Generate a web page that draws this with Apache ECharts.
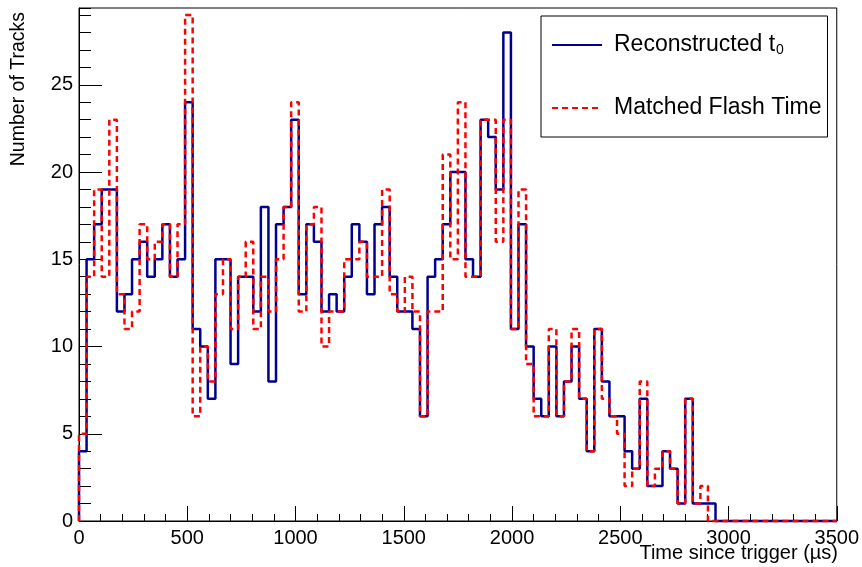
<!DOCTYPE html>
<html>
<head>
<meta charset="utf-8">
<script src="https://cdn.jsdelivr.net/npm/echarts@6/dist/echarts.min.js"></script>
<style>
  html, body { margin: 0; padding: 0; background: #fff; }
  #main { width: 862px; height: 567px; }
</style>
</head>
<body>
<div id="main"></div>
<script>
var myChart = echarts.init(document.getElementById('main'));

// histogram binning: 100 bins of 35 us from 0 to 3500
var binWidth = 35;
var xTicks = [0, 500, 1000, 1500, 2000, 2500, 3000, 3500];
var yTicks = [0, 5, 10, 15, 20, 25];

var reconstructedT0 = [
  4, 15, 17, 19, 19, 12, 13, 15, 16, 14,
  15, 17, 14, 15, 24, 11, 10, 7, 15, 15,
  9, 14, 14, 12, 18, 8, 17, 18, 23, 13,
  17, 16, 12, 13, 12, 14, 17, 16, 13, 17,
  18, 14, 12, 12, 11, 6, 14, 15, 17, 20,
  20, 15, 14, 23, 22, 19, 28, 11, 17, 10,
  7, 6, 10, 6, 8, 10, 7, 4, 11, 8,
  6, 6, 4, 3, 7, 2, 2, 4, 3, 1,
  7, 1, 1, 1, 0, 0, 0, 0, 0, 0,
  0, 0, 0, 0, 0, 0, 0, 0, 0, 0
];

var matchedFlashTime = [
  5, 14, 19, 14, 23, 13, 11, 12, 17, 15,
  16, 17, 14, 17, 29, 6, 10, 8, 13, 15,
  11, 14, 16, 11, 14, 12, 15, 18, 24, 12,
  17, 18, 10, 12, 12, 15, 15, 16, 14, 14,
  19, 13, 12, 14, 12, 6, 12, 12, 21, 15,
  24, 14, 14, 23, 23, 16, 23, 11, 19, 9,
  6, 6, 11, 6, 8, 11, 7, 4, 11, 7,
  6, 5, 2, 3, 8, 2, 3, 4, 3, 1,
  7, 1, 2, 0, 0, 0, 0, 0, 0, 0,
  0, 0, 0, 0, 0, 0, 0, 0, 0, 0
];

// turn bin contents into step points (left edge of each bin, closing edge at the end)
function toSteps(counts) {
  var pts = [[0, 0]];
  counts.forEach(function (c, i) { pts.push([i * binWidth, c]); });
  pts.push([counts.length * binWidth, counts[counts.length - 1]]);
  return pts;
}

var font = 'Liberation Sans';

var option = {
  animation: false,
  backgroundColor: '#fff',
  grid: {
    left: 79, right: 24, top: 8, bottom: 46,
    show: true, borderColor: '#000', borderWidth: 1
  },
  legend: {
    orient: 'vertical',
    left: 541, top: 16,
    padding: [17, 6, 17, 10],
    itemGap: 39,
    itemWidth: 50, itemHeight: 14,
    borderColor: '#000', borderWidth: 1,
    backgroundColor: '#fff',
    itemStyle: { opacity: 0 },
    textStyle: {
      fontFamily: font, fontSize: 23, color: '#000', lineHeight: 24,
      padding: [0, 0, 0, 7],
      rich: {
        sub: { fontFamily: font, fontSize: 14, color: '#000', verticalAlign: 'bottom', padding: [13, 0, 0, 1] }
      }
    },
    formatter: function (name) {
      return name.replace('t0', 't{sub|0}');
    }
  },
  xAxis: {
    type: 'value',
    min: xTicks[0], max: xTicks[xTicks.length - 1], interval: 500,
    axisLine: { show: true, onZero: false, lineStyle: { color: '#000', width: 1 } },
    axisTick: { show: true, inside: true, length: 15, lineStyle: { color: '#000' } },
    minorTick: { show: true, splitNumber: 5, length: 7, lineStyle: { color: '#000' } },
    splitLine: { show: false },
    axisLabel: {
      fontFamily: font, fontSize: 20, color: '#000', margin: 7,
      formatter: function (v) { return String(v); }
    }
  },
  yAxis: [{
    type: 'value',
    min: yTicks[0], max: 29.4, interval: 5,
    axisLine: { show: true, lineStyle: { color: '#000', width: 1 } },
    axisTick: { show: true, inside: true, length: 23, lineStyle: { color: '#000' } },
    splitLine: { show: false },
    axisLabel: { fontFamily: font, fontSize: 20, color: '#000', margin: 6, showMaxLabel: false }
  }, {
    // minor ticks, one per track
    type: 'value', position: 'left',
    min: 0, max: 29.4, interval: 1,
    axisLine: { show: false },
    axisTick: { show: true, inside: true, length: 12, lineStyle: { color: '#000' } },
    splitLine: { show: false },
    axisLabel: { show: false }
  }],
  graphic: [{
    type: 'text',
    x: 19, y: 12,
    rotation: Math.PI / 2,
    style: {
      text: 'Number of Tracks',
      fontFamily: font, fontSize: 19.5, fill: '#000',
      align: 'right', verticalAlign: 'middle'
    }
  }, {
    type: 'text',
    x: 838, y: 553,
    style: {
      text: 'Time since trigger (\u00b5s)',
      fontFamily: font, fontSize: 20, fill: '#000',
      align: 'right', verticalAlign: 'middle'
    }
  }],
  series: [{
    name: 'Reconstructed t0',
    type: 'line',
    step: 'end',
    symbol: 'none',
    clip: false,
    data: toSteps(reconstructedT0),
    lineStyle: { color: '#000090', width: 2.5 },
    itemStyle: { color: '#000090' }
  }, {
    name: 'Matched Flash Time',
    type: 'line',
    step: 'end',
    symbol: 'none',
    clip: false,
    data: toSteps(matchedFlashTime),
    lineStyle: { color: '#ff0000', width: 2.5, type: [6, 4] },
    itemStyle: { color: '#ff0000' }
  }]
};
myChart.setOption(option);
</script>
</body>
</html>
